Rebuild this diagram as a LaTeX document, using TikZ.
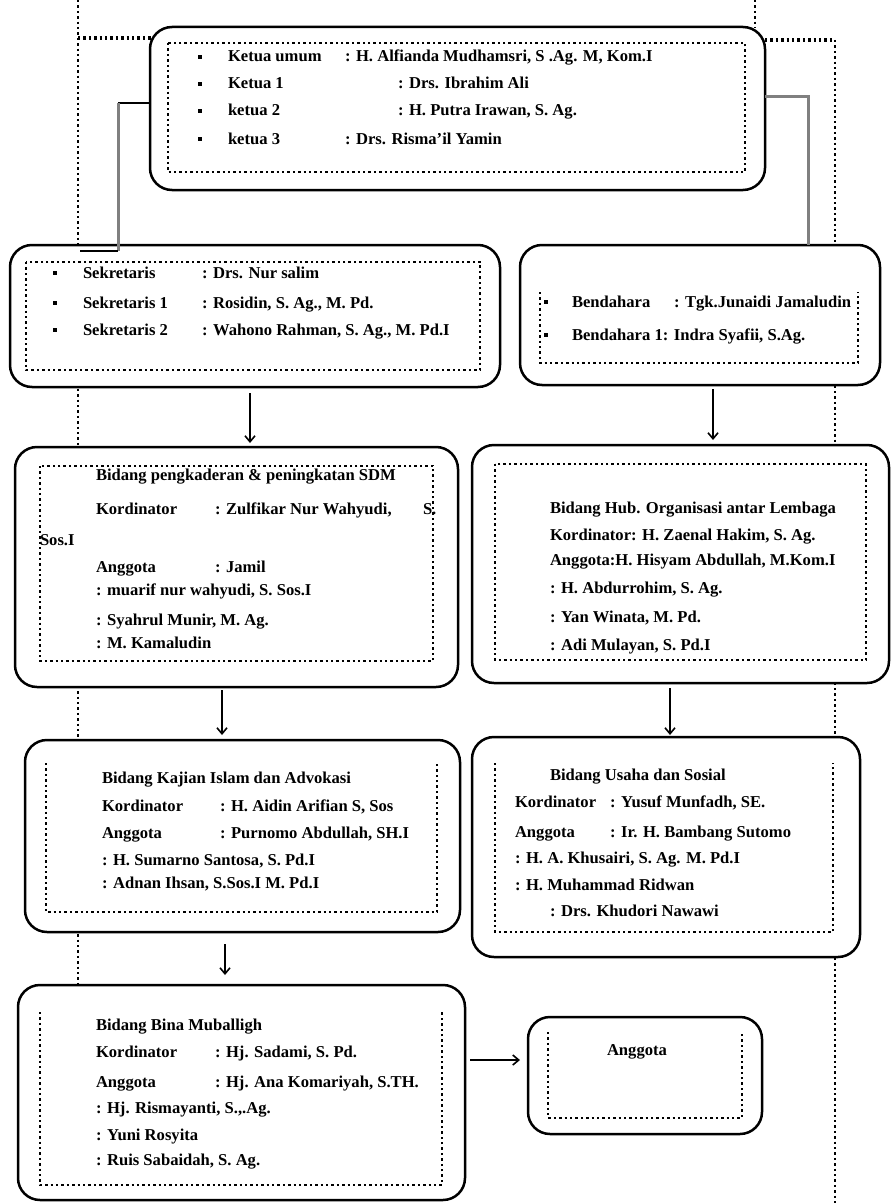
\documentclass[tikz,border=0pt]{standalone}
\usepackage{fontspec}
\setmainfont{Liberation Serif}
\usetikzlibrary{arrows.meta}
\begin{document}
\begin{tikzpicture}[x=1pt,y=-1pt,
 obox/.style={draw, fill=white, line width=2.5pt, rounded corners=22pt, anchor=north west, inner sep=0, outer sep=0},
 ibox/.style={anchor=north west, inner sep=0, outer sep=0},
 dotline/.style={line width=2.4pt, dash pattern=on 2.4pt off 3pt},
 t/.style={anchor=base west, inner sep=0, outer sep=0, font=\fontsize{16.6}{19}\selectfont\bfseries},
 bul/.style={fill, inner sep=0, minimum size=3.5pt},
 gcon/.style={draw=gray, line width=3pt},
 bcon/.style={line width=2.5pt},
 arr/.style={line width=1.6pt, -{Straight Barb[length=6pt,width=10pt]}}]
\useasboundingbox (0,0) rectangle (891,1204);
% background dotted guide lines
\coordinate (g1) at (78,0); \coordinate (g2) at (78,1204);
\coordinate (g3) at (835,40); \coordinate (g4) at (835,1204);
\coordinate (g5) at (755,0); \coordinate (g6) at (755,28);
\coordinate (g7) at (78,38); \coordinate (g8) at (152,38);
\coordinate (g9) at (765,40);
\draw[dotline] (g1) -- (g2);
\draw[dotline] (g3) -- (g4);
\draw[dotline] (g5) -- (g6);
\draw[dotline, line width=3.2pt] (g7) -- (g8);
\draw[dotline, line width=3.2pt] (g9) -- (g3);
% boxes
\node[obox, minimum width=615pt, minimum height=163pt] (top) at (150,27) {};
\node[ibox, minimum width=577pt, minimum height=129pt] (topi) at (168,43) {};
\node[obox, minimum width=490pt, minimum height=142pt] (sek) at (10,245) {};
\node[ibox, minimum width=454pt, minimum height=108pt] (seki) at (26,262) {};
\node[obox, minimum width=360pt, minimum height=140pt] (ben) at (520,245) {};
\node[ibox, minimum width=318pt, minimum height=71pt] (beni) at (540,292) {};
\node[obox, minimum width=443pt, minimum height=240pt] (b3) at (15,447) {};
\node[ibox, minimum width=393pt, minimum height=195pt] (b3i) at (40,466) {};
\node[obox, minimum width=417pt, minimum height=238pt] (b4) at (472,445) {};
\node[ibox, minimum width=371pt, minimum height=196pt] (b4i) at (495,464) {};
\node[obox, minimum width=435pt, minimum height=192pt] (b5) at (25,740) {};
\node[ibox, minimum width=391pt, minimum height=149pt] (b5i) at (46,763) {};
\node[obox, minimum width=388pt, minimum height=220pt] (b6) at (472,737) {};
\node[ibox, minimum width=338pt, minimum height=169pt] (b6i) at (495,763) {};
\node[obox, minimum width=447pt, minimum height=215pt] (b7) at (18,985) {};
\node[ibox, minimum width=402pt, minimum height=173pt] (b7i) at (40,1012) {};
\node[obox, minimum width=234pt, minimum height=117pt] (b8) at (528,1017) {};
\node[ibox, minimum width=194pt, minimum height=86pt] (b8i) at (548,1032) {};
% inner dotted frames
\draw[dotline] (topi.north west) rectangle (topi.south east);
\draw[dotline] (seki.north west) rectangle (seki.south east);
\draw[dotline] (b3i.north west) rectangle (b3i.south east);
\draw[dotline] (b4i.north west) rectangle (b4i.south east);
\foreach \b in {beni,b5i,b6i,b7i,b8i}
  \draw[dotline] (\b.north west) -- (\b.south west) -- (\b.south east) -- (\b.north east);
% connectors from top box
\coordinate (tl1) at (118,103); \coordinate (tl2) at (118,251); \coordinate (tl3) at (80,251);
\draw[bcon] (top.west |- tl1) -- (tl1);
\draw[gcon] (tl1) -- (tl2);
\draw[bcon] (tl2) -- (tl3);
\coordinate (tr1) at (808,97);
\draw[gcon] (top.east |- tr1) -- (tr1) -- (ben.north -| tr1);
% arrows
\coordinate (x1) at (250,0); \coordinate (x2) at (713,0);
\coordinate (x3) at (222,0); \coordinate (x4) at (670,0);
\coordinate (x5) at (225,0); \coordinate (y6) at (0,1060);
\draw[arr, shorten <=6pt, shorten >=4pt] (sek.south -| x1) -- (b3.north -| x1);
\draw[arr, shorten <=4pt, shorten >=5pt] (ben.south -| x2) -- (b4.north -| x2);
\draw[arr, shorten <=3pt, shorten >=5pt] (b3.south -| x3) -- (b5.north -| x3);
\draw[arr, shorten <=5pt, shorten >=2pt] (b4.south -| x4) -- (b6.north -| x4);
\draw[arr, shorten <=12pt, shorten >=10pt] (b5.south -| x5) -- (b7.north -| x5);
\draw[arr, shorten <=5pt, shorten >=8pt] (b7.east |- y6) -- (b8.west |- y6);
% top box text
\node[bul] (tb0) at (200,57) {}; \node[t] (ka0) at (228,62) {Ketua umum}; \node[t] (kb0) at (345,62) {: H. Alfianda Mudhamsri, S .Ag. M, Kom.I};
\node[bul] (tb1) at (200,84) {}; \node[t] (ka1) at (228,89) {Ketua 1}; \node[t] (kb1) at (398,89) {: Drs. Ibrahim Ali};
\node[bul] (tb2) at (200,111) {}; \node[t] (ka2) at (228,116) {ketua 2}; \node[t] (kb2) at (398,116) {: H. Putra Irawan, S. Ag.};
\node[bul] (tb3) at (200,139) {}; \node[t] (ka3) at (228,144) {ketua 3}; \node[t] (kb3) at (345,144) {: Drs. Risma'il Yamin};
% secretary
\node[bul] (sb0) at (55,273) {}; \node[t] (sa0) at (83,278) {Sekretaris}; \node[t] (sc0) at (202,278) {: Drs. Nur salim};
\node[bul] (sb1) at (55,303) {}; \node[t] (sa1) at (83,308) {Sekretaris 1}; \node[t] (sc1) at (202,308) {: Rosidin, S. Ag., M. Pd.};
\node[bul] (sb2) at (55,330) {}; \node[t] (sa2) at (83,335) {Sekretaris 2}; \node[t] (sc2) at (202,335) {: Wahono Rahman, S. Ag., M. Pd.I};
% treasurer
\node[bul] (bb0) at (546,302) {}; \node[t] (ba0) at (572,307) {Bendahara}; \node[t] (bc0) at (674,307) {: Tgk.Junaidi Jamaludin};
\node[bul] (bb1) at (546,335) {}; \node[t] (ba1) at (572,340) {Bendahara 1: Indra Syafii, S.Ag.};
% box 3
\node[t] (c0) at (96,480) {Bidang pengkaderan \& peningkatan SDM};
\node[t] (c1) at (96,514) {Kordinator}; \node[t] (c1b) at (215,514) {: Zulfikar Nur Wahyudi,}; \node[t] (c1c) at (423,514) {S.};
\node[t] (c2) at (40,545) {Sos.I};
\node[t] (c3) at (96,572) {Anggota}; \node[t] (c3b) at (215,572) {: Jamil};
\node[t] (c4) at (96,595) {: muarif nur wahyudi, S. Sos.I};
\node[t] (c5) at (96,625) {: Syahrul Munir, M. Ag.};
\node[t] (c6) at (96,648) {: M. Kamaludin};
% box 4
\node[t] (d0) at (550,513) {Bidang Hub. Organisasi antar Lembaga};
\node[t] (d1) at (550,540) {Kordinator: H. Zaenal Hakim, S. Ag.};
\node[t] (d2) at (550,565) {Anggota:H. Hisyam Abdullah, M.Kom.I};
\node[t] (d3) at (550,593) {: H. Abdurrohim, S. Ag.};
\node[t] (d4) at (550,622) {: Yan Winata, M. Pd.};
\node[t] (d5) at (550,650) {: Adi Mulayan, S. Pd.I};
% box 5
\node[t] (e0) at (102,783) {Bidang Kajian Islam dan Advokasi};
\node[t] (e1) at (102,811) {Kordinator}; \node[t] (e1b) at (220,811) {: H. Aidin Arifian S, Sos};
\node[t] (e2) at (102,838) {Anggota}; \node[t] (e2b) at (220,838) {: Purnomo Abdullah, SH.I};
\node[t] (e3) at (102,865) {: H. Sumarno Santosa, S. Pd.I};
\node[t] (e4) at (102,888) {: Adnan Ihsan, S.Sos.I M. Pd.I};
% box 6
\node[t] (f0) at (550,780) {Bidang Usaha dan Sosial};
\node[t] (f1) at (515,807) {Kordinator}; \node[t] (f1b) at (610,807) {: Yusuf Munfadh, SE.};
\node[t] (f2) at (515,837) {Anggota}; \node[t] (f2b) at (610,837) {: Ir. H. Bambang Sutomo};
\node[t] (f3) at (515,863) {: H. A. Khusairi, S. Ag. M. Pd.I};
\node[t] (f4) at (515,890) {: H. Muhammad Ridwan};
\node[t] (f5) at (550,916) {: Drs. Khudori Nawawi};
% box 7
\node[t] (h0) at (96,1030) {Bidang Bina Muballigh};
\node[t] (h1) at (96,1057) {Kordinator}; \node[t] (h1b) at (215,1057) {: Hj. Sadami, S. Pd.};
\node[t] (h2) at (96,1087) {Anggota}; \node[t] (h2b) at (215,1087) {: Hj. Ana Komariyah, S.TH.};
\node[t] (h3) at (96,1113) {: Hj. Rismayanti, S.,.Ag.};
\node[t] (h4) at (96,1140) {: Yuni Rosyita};
\node[t] (h5) at (96,1165) {: Ruis Sabaidah, S. Ag.};
% box 8
\node[t] (i0) at (607,1055) {Anggota};
\end{tikzpicture}
\end{document}
